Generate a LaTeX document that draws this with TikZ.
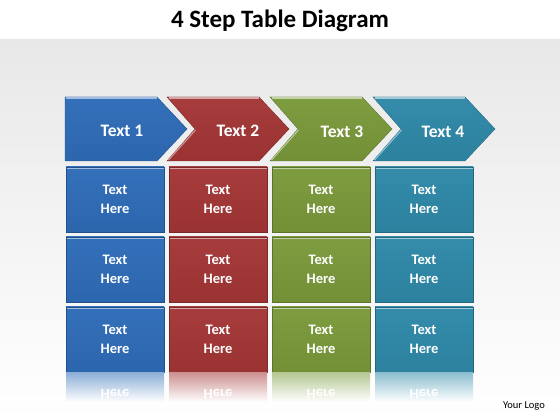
\documentclass[tikz,border=0pt]{standalone}
\usepackage{fontspec}
\setmainfont{Carlito}
\definecolor{cBlue}{RGB}{46,108,184}
\definecolor{cRed}{RGB}{164,54,54}
\definecolor{cGreen}{RGB}{122,153,58}
\definecolor{cTeal}{RGB}{46,137,168}
\definecolor{bgGray}{RGB}{232,232,232}
\tikzset{
  cell/.style={minimum width=98pt, minimum height=65pt, inner sep=0pt, align=center,
    text=white, font=\bfseries\fontsize{14.5}{18.5}\selectfont,
    top color=#1!97!white, bottom color=#1!94!black, draw=#1!75!black, line width=0.4pt,
    path picture={\fill[#1!45!white] (path picture bounding box.north west) rectangle ([yshift=-2.5pt]path picture bounding box.north east);}},
  chevtext/.style={text=white, font=\bfseries\fontsize{17.5}{20}\selectfont},
  chev/.style={top color=#1!97!white, bottom color=#1!94!black, draw=#1!75!black, line width=0.4pt},
  hilite/.style={draw=#1!45!white, line width=2pt},
  refl/.style={top color=#1!55!white, bottom color=white, draw=none},
  refltext/.style={text=white, font=\bfseries\fontsize{14.5}{18.5}\selectfont, yscale=-1},
}
\begin{document}
\begin{tikzpicture}[x=1pt,y=1pt]
\useasboundingbox (0,0) rectangle (560,420);
\fill[white] (0,0) rectangle (560,420);
\shade[top color=bgGray, middle color=bgGray!55!white, bottom color=white] (0,380) rectangle (560,0);
\node[font=\bfseries\fontsize{25}{30}\selectfont] (title) at (280,399) {4 Step Table Diagram};
% header chevrons
\path[chev=cBlue] (65,323) -- (157,323) -- (187,291) -- (157,259) -- (65,259) -- cycle;
\draw[hilite=cBlue] (66,322) -- (156.5,322);
\path[chev=cRed] (167,323) -- (259,323) -- (289,291) -- (259,259) -- (167,259) -- (195,291) -- cycle;
\draw[hilite=cRed] (168.5,322) -- (258.5,322);
\draw[draw=cRed!55!white, line width=1.2pt] (195.5,290) -- (168.5,260);
\path[chev=cGreen] (270,323) -- (362,323) -- (392,291) -- (362,259) -- (270,259) -- (298,291) -- cycle;
\draw[hilite=cGreen] (271.5,322) -- (361.5,322);
\draw[draw=cGreen!55!white, line width=1.2pt] (298.5,290) -- (271.5,260);
\path[chev=cTeal] (373,323) -- (465,323) -- (495,291) -- (465,259) -- (373,259) -- (401,291) -- cycle;
\draw[hilite=cTeal] (374.5,322) -- (464.5,322);
\draw[draw=cTeal!55!white, line width=1.2pt] (401.5,290) -- (374.5,260);
\node[chevtext] (h1) at (122,289.5) {Text 1};
\node[chevtext] (h2) at (238,289.5) {Text 2};
\node[chevtext] (h3) at (342,288.5) {Text 3};
\node[chevtext] (h4) at (443,288.5) {Text 4};
% cells
\foreach \c/\x [count=\i] in {cBlue/115, cRed/218, cGreen/321, cTeal/424}{
  \node[cell=\c] (r1c\i) at (\x,220.5) {Text\\Here};
  \node[cell=\c] (r2c\i) at (\x,150.5) {Text\\Here};
  \node[cell=\c] (r3c\i) at (\x,80.5) {Text\\Here};
  \shade[refl=\c] (\x-49,47.5) rectangle (\x+49,18);
  \node[refltext] (m\i) at (\x,26) {Here};
}
\node[font=\fontsize{10.5}{12}\selectfont] (logo) at (524,14) {Your Logo};
\end{tikzpicture}
\end{document}
